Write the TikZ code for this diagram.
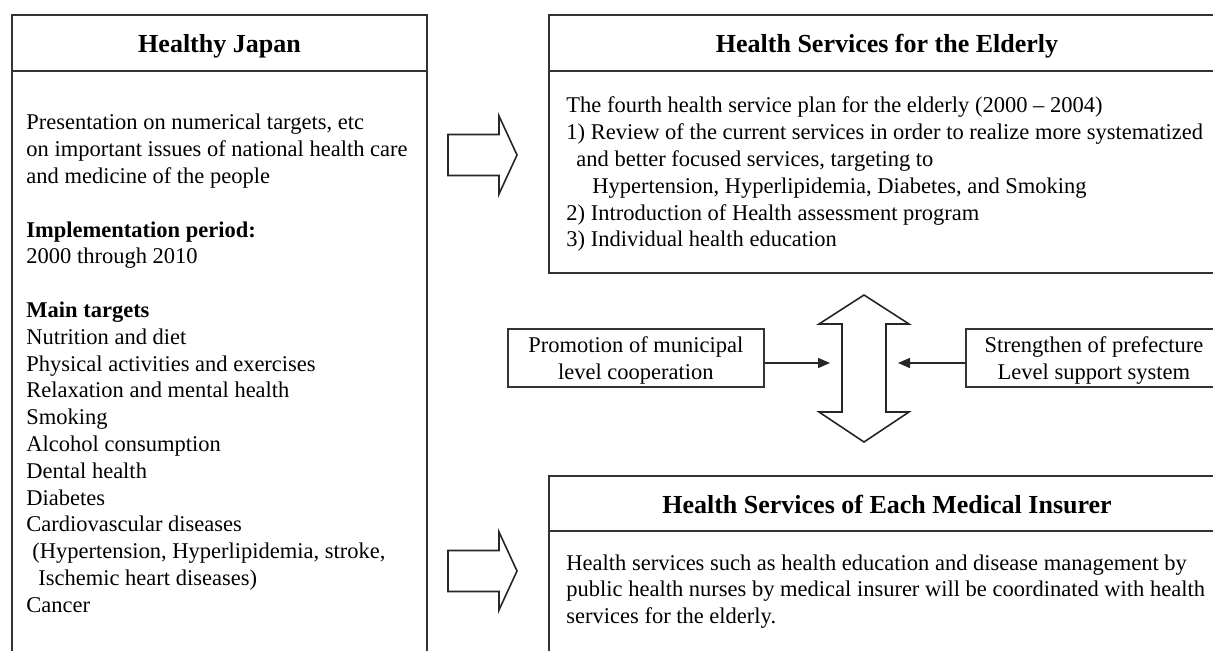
\documentclass[tikz,border=0pt]{standalone}
\usepackage{fontspec}
\setmainfont{Liberation Serif}
\usetikzlibrary{arrows.meta}
\newcommand\txtsize{\fontsize{11.25pt}{13.4pt}\selectfont}
\newcommand\hdsize{\fontsize{13pt}{15pt}\selectfont\bfseries}
% two centred lines, drawn slightly below the box centre
\newcommand\twolines[2]{\raisebox{-1.5pt}[\height][\depth]{%
  \begin{tabular}{@{}c@{}}#1\\#2\end{tabular}}}

\begin{document}
\begin{tikzpicture}[x=0.5pt,y=-0.5pt,
  frame/.style={draw=black!80, line width=0.9pt},
  blockarrow/.style={draw=black!85, line width=0.8pt, fill=white, line join=miter},
  heading/.style={font=\hdsize, anchor=base, inner sep=0pt},
  bodytext/.style={font=\txtsize, anchor=base west, inner sep=0pt},
  sidebox/.style={frame, font=\txtsize, minimum width=128pt,
    minimum height=29pt, inner sep=0pt, anchor=north west},
  feed/.style={draw=black!85, line width=0.8pt, -{Triangle[length=6pt,width=5pt]}},
]
\useasboundingbox (0,0) rectangle (1213,651);
\clip (0,0) rectangle (1213,651);

% ---- Healthy Japan (left column, runs off the bottom) ----
\draw[frame] (12,700) -- (12,15) -- (427,15) -- (427,700);
\draw[frame] (12,71) -- (427,71);
\node[heading] (hjtitle) at (219.5,53) {Healthy Japan};
\node[bodytext] (hjbody) at (26,130) {\parbox[t]{200pt}{%
Presentation on numerical targets, etc\\
on important issues of national health care\\
and medicine of the people\\[13.4pt]
\textbf{Implementation period:}\\
2000 through 2010\\[13.4pt]
\textbf{Main targets}\\
Nutrition and diet\\
Physical activities and exercises\\
Relaxation and mental health\\
Smoking\\
Alcohol consumption\\
Dental health\\
Diabetes\\
Cardiovascular diseases\\
\hspace*{3pt}(Hypertension, Hyperlipidemia, stroke,\\
\hspace*{6pt}Ischemic heart diseases)\\
Cancer}};

% ---- Health Services for the Elderly ----
\draw[frame] (549,15) rectangle (1225,273);
\draw[frame] (549,71) -- (1225,71);
\node[heading] (eldtitle) at (887,53) {Health Services for the Elderly};
\node[bodytext] (eldbody) at (566,113) {\parbox[t]{330pt}{%
The fourth health service plan for the elderly (2000 -- 2004)\\
1) Review of the current services in order to realize more systematized\\
\hspace*{5pt}and better focused services, targeting to\\
\hspace*{13pt}Hypertension, Hyperlipidemia, Diabetes, and Smoking\\
2) Introduction of Health assessment program\\
3) Individual health education}};

% ---- Health Services of Each Medical Insurer (runs off the bottom) ----
\draw[frame] (549,700) -- (549,476) -- (1225,476) -- (1225,700);
\draw[frame] (549,531) -- (1225,531);
\node[heading] (institle) at (887,513) {Health Services of Each Medical Insurer};
\node[bodytext] (insbody) at (566,570) {\parbox[t]{330pt}{%
Health services such as health education and disease management by\\
public health nurses by medical insurer will be coordinated with health\\
services for the elderly.}};

% ---- block arrows from Healthy Japan to the right-hand column ----
\draw[blockarrow] (448,134.5) -- (499,134.5) -- (499,116) -- (517,155)
  -- (499,194) -- (499,175.5) -- (448,175.5) -- cycle;
\draw[blockarrow] (448,550.5) -- (499,550.5) -- (499,532) -- (517,571)
  -- (499,610) -- (499,591.5) -- (448,591.5) -- cycle;

% ---- two-way block arrow between the service boxes ----
\draw[blockarrow] (842,324) -- (819,324) -- (864,295) -- (909,324) -- (886,324)
  -- (886,412) -- (909,412) -- (864,442) -- (819,412) -- (842,412) -- cycle;

% ---- side supports feeding the two-way arrow ----
\node[sidebox] (muni) at (507,328) {\twolines{Promotion of municipal}{level cooperation}};
\node[sidebox] (pref) at (965,328) {\twolines{Strengthen of prefecture}{Level support system}};
\coordinate (dblL) at (830,363);
\coordinate (dblR) at (898,363);
\draw[feed] (muni.east |- dblL) -- (dblL);
\draw[feed] (pref.west |- dblR) -- (dblR);
\end{tikzpicture}
\end{document}
